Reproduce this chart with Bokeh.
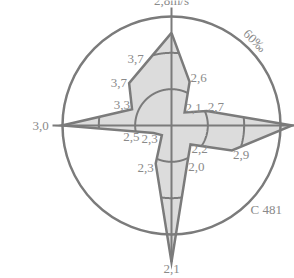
import numpy as np
from bokeh.plotting import figure
from bokeh.models import Range1d, ColumnDataSource
from bokeh.core.properties import value
from bokeh.embed import file_html
from bokeh.resources import INLINE

# ---- data (16 directions, clockwise from N) ----
directions = ["N", "NNE", "NE", "ENE", "E", "ESE", "SE", "SSE",
              "S", "SSW", "SW", "WSW", "W", "WNW", "NW", "NNW"]
frequency = [51, 26, 10.2, 21, 66.4, 36, 14.8, 22.6,
             75.2, 22.7, 7.5, 10.7, 60.2, 23.5, 33, 37]   # per mille
speed_labels = ["2,8m/s", "2,6", "2,1", "2,7", "", "2,9", "2,2", "2,0",
                "2,1", "2,3", "2,3", "2,5", "3,0", "3,3", "3,7", "3,7"]
grid_rings = [20, 40]
outer_ring = 60
outer_ring_label = "60‰"
station = "C 481"

W, H = 294, 278
cx, cy = 171, 125
k = 109 / 60.0  # px per permille

GRAY = "#7b7b7b"
TXT = "#8a8a8a"
FONT = value("Liberation Serif")

p = figure(width=W, height=H, output_backend="svg", toolbar_location=None,
           x_range=Range1d(-cx / k, (W - cx) / k),
           y_range=Range1d(-(H - cy) / k, cy / k),
           min_border=0, outline_line_color=None)
p.axis.visible = False
p.grid.visible = False
p.background_fill_color = "white"
p.border_fill_color = "white"

n = len(directions)
theta = np.deg2rad(np.arange(n) * 360.0 / n)
r = np.array(frequency, dtype=float)
px = r * np.sin(theta)
py = r * np.cos(theta)

# polygon
p.patch(list(px), list(py), fill_color="#dcdcdc", line_color=None)


# polar radius of polygon at angle t
def poly_r(t):
    step = 2 * np.pi / n
    i = int(np.floor(t / step)) % n
    j = (i + 1) % n
    t1 = i * step
    r1, r2 = r[i], r[j]
    a = t - t1
    return r1 * r2 * np.sin(step) / (r1 * np.sin(a) + r2 * np.sin(step - a))


ts = np.linspace(0, 2 * np.pi, 1441)
for ring in grid_rings:
    xs, ys = [], []
    for t in ts:
        if ring <= poly_r(t % (2 * np.pi)):
            xs.append(ring * np.sin(t))
            ys.append(ring * np.cos(t))
        else:
            xs.append(np.nan)
            ys.append(np.nan)
    p.line(xs, ys, line_color=GRAY, line_width=2)

# axes
p.line([0, 0], [65, -frequency[8]], line_color=GRAY, line_width=2)
p.line([-65.5, 72], [0, 0], line_color=GRAY, line_width=2)

# outer ring
p.circle([0], [0], radius=outer_ring, fill_color=None, line_color=GRAY,
         line_width=2.5)

# polygon outline
p.line(list(px) + [px[0]], list(py) + [py[0]], line_color=GRAY,
       line_width=2.5, line_join="miter")

# speed labels
lx, ly, lt, la, lb, xo, yo = [], [], [], [], [], [], []
for i in range(n):
    if not speed_labels[i]:
        continue
    deg = i * 360.0 / n
    rr = r[i]
    if i == 0:
        rr = 68.6
    elif i == 12:
        rr = 66.5
    elif i == 8:
        rr = r[i] + 1.5
    lx.append(rr * np.sin(theta[i]))
    ly.append(rr * np.cos(theta[i]))
    lt.append(speed_labels[i])
    if deg == 0 or deg == 180:
        la.append("center")
        xo.append(0)
    elif deg < 180:
        la.append("left")
        xo.append(1)
    else:
        la.append("right")
        xo.append(-2)
    if i == 0:
        lb.append("alphabetic")
    elif deg in (90, 270, 315):
        lb.append("middle")
    elif deg < 90 or deg > 270:
        lb.append("bottom")
    else:
        lb.append("top")
    yo.append(0)

# crowded labels near the centre are nudged apart
xo[lt.index("2,5")] = -14
xo[lt.index("2,5") - 1] = -4

src = ColumnDataSource(dict(x=lx, y=ly, text=lt, align=la, base=lb,
                            xo=xo, yo=yo))
p.text(x="x", y="y", text="text", text_align="align", text_baseline="base",
       x_offset="xo", y_offset="yo",
       source=src, text_font=FONT, text_font_size="13px", text_color=TXT)

# ring label
ang = np.deg2rad(44.5)
p.text(x=[65.5 * np.sin(ang)], y=[65.5 * np.cos(ang)], text=[outer_ring_label],
       angle=-np.pi / 4, text_align="center", text_baseline="middle",
       text_font=FONT, text_font_size="13px", text_color=TXT)

# station
p.text(x=[(250 - cx) / k], y=[-(209 - cy) / k], text=[station],
       text_align="left", text_baseline="middle",
       text_font=FONT, text_font_size="13px", text_color=TXT)

open("out.html", "w").write(file_html(p, INLINE))
